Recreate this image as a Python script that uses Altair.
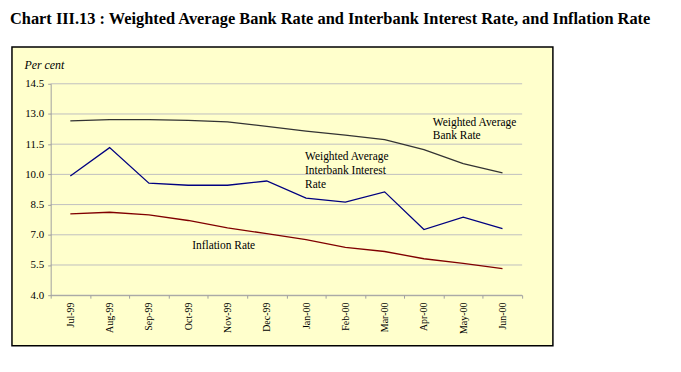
import altair as alt
import pandas as pd

months = ["Jul-99", "Aug-99", "Sep-99", "Oct-99", "Nov-99", "Dec-99",
          "Jan-00", "Feb-00", "Mar-00", "Apr-00", "May-00", "Jun-00"]
bank_rate = [12.66, 12.72, 12.72, 12.68, 12.61, 12.38, 12.15, 11.95, 11.73, 11.23, 10.54, 10.08]
interbank_rate = [9.92, 11.33, 9.56, 9.46, 9.46, 9.67, 8.82, 8.62, 9.13, 7.26, 7.88, 7.30]
inflation_rate = [8.04, 8.12, 7.99, 7.71, 7.34, 7.06, 6.76, 6.38, 6.17, 5.81, 5.58, 5.32]
series_names = ["Weighted Average Bank Rate", "Weighted Average Interbank Interest Rate", "Inflation Rate"]
series_colors = ["#333333", "#000080", "#800000"]
y_ticks = [4.0, 5.5, 7.0, 8.5, 10.0, 11.5, 13.0, 14.5]

label_texts = ["Weighted Average\nBank Rate", "Weighted Average\nInterbank Interest\nRate", "Inflation Rate"]
label_months = ["Apr-00", "Jan-00", "Oct-99"]
label_values = [12.87, 11.15, 6.76]
label_dx = [9, -1, 4]

rows = []
for name, vals in zip(series_names, [bank_rate, interbank_rate, inflation_rate]):
    for m, v in zip(months, vals):
        rows.append({"month": m, "value": v, "series": name})
df = pd.DataFrame(rows)
grid_df = pd.DataFrame({"tick": y_ticks})
lab_df = pd.DataFrame({"text": label_texts, "month": label_months, "value": label_values})

W, H = 475, 213
x_scale = alt.Scale(domain=months, paddingInner=0, paddingOuter=0)
y_scale = alt.Scale(domain=[4.0, 14.5], nice=False, zero=False)

x_axis = alt.Axis(title=None, labelAngle=-90, labelFont="Liberation Serif", labelFontSize=10,
                  labelColor="#000000", tickBand="extent", domainColor="#A0A0A0",
                  tickColor="#A0A0A0", tickSize=3, labelPadding=4, grid=False, zindex=1)
y_axis = alt.Axis(values=y_ticks, format=".1f", grid=False, title="Per cent",
                  titleAngle=0, titleFont="Liberation Serif", titleFontStyle="italic",
                  titleFontWeight="normal", titleFontSize=12, titleAlign="left",
                  titleBaseline="middle", titleX=-27, titleY=-19, titleColor="#000000",
                  labelFont="Liberation Serif", labelFontSize=11, labelColor="#000000",
                  domainColor="#A0A0A0", tickColor="#A0A0A0", tickSize=3, labelPadding=4,
                  zindex=1)

box = alt.Chart(grid_df).mark_rect(fill="#FFFFCC", stroke="#000000", strokeWidth=1.5).encode(
    x=alt.value(-39), x2=alt.value(506), y=alt.value(-37), y2=alt.value(264)
).transform_filter(alt.datum.tick == 4.0)

grid = alt.Chart(grid_df).mark_rule(color="#C0C0C0", strokeWidth=1).encode(
    y=alt.Y("tick:Q", scale=y_scale, axis=y_axis),
    x=alt.value(0), x2=alt.value(W)
)

lines = alt.Chart(df).mark_line(strokeWidth=1.3).encode(
    x=alt.X("month:N", sort=months, scale=x_scale, axis=x_axis),
    y=alt.Y("value:Q", scale=y_scale, axis=y_axis),
    color=alt.Color("series:N", scale=alt.Scale(domain=series_names, range=series_colors), legend=None),
    detail="series:N"
)

labels_layers = []
for i in range(len(label_texts)):
    labels_layers.append(
        alt.Chart(lab_df.iloc[[i]]).mark_text(align="left", baseline="top", font="Liberation Serif",
                                             fontSize=11.5, lineBreak="\n", lineHeight=14,
                                             color="#000000", dx=label_dx[i]).encode(
            x=alt.X("month:N", sort=months, scale=x_scale, axis=x_axis),
            y=alt.Y("value:Q", scale=y_scale, axis=y_axis),
            text="text:N"
        )
    )

chart = alt.layer(box, grid, lines, *labels_layers).properties(
    width=W, height=H,
    title=alt.TitleParams(
        "Chart III.13 : Weighted Average Bank Rate and Interbank Interest Rate, and Inflation Rate",
        anchor="start", frame="group", font="Liberation Serif", fontSize=16.5, fontWeight="bold",
        color="#000000", dx=-41, offset=19
    ),
    autosize=alt.AutoSizeParams(type="none"),
    padding={"left": 43, "top": 75, "right": 152, "bottom": 70}
).configure_view(stroke=None).configure(background="#FFFFFF")

chart.save("out.html", embed_options={"renderer": "svg", "actions": False})
